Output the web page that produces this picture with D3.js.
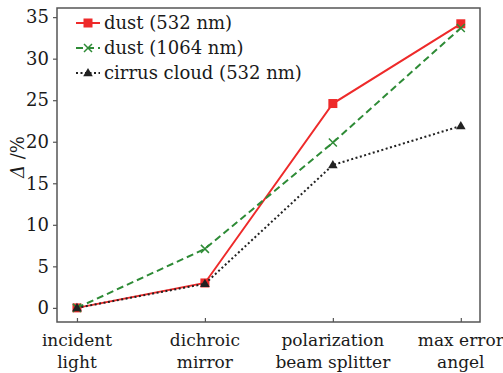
<!DOCTYPE html>
<html>
<head>
<meta charset="utf-8">
<script src="https://cdn.jsdelivr.net/npm/d3@7"></script>
<style>
  body { margin: 0; background: #fff; }
  text { font-family: "DejaVu Serif", serif; fill: #1a1a1a; }
</style>
</head>
<body>
<div id="viz"></div>
<script>
const categories = [["incident", "light"], ["dichroic", "mirror"], ["polarization", "beam splitter"], ["max error", "angel"]]
const dust532 = [0, 3.0, 24.6, 34.2]
const dust1064 = [0, 7.1, 19.9, 33.7]
const cirrus532 = [0, 2.9, 17.2, 21.9]
const yTicks = [0, 5, 10, 15, 20, 25, 30, 35]
const seriesNames = ["dust (532 nm)", "dust (1064 nm)", "cirrus cloud (532 nm)"]

const width = 503
const height = 373
const plotLeft = 57, plotRight = 480, plotTop = 8, plotBottom = 322

const svg = d3.select("#viz").append("svg")
  .attr("width", width)
  .attr("height", height)

const x = d3.scaleLinear().domain([-0.156, 3.15]).range([plotLeft, plotRight])
const y = d3.scaleLinear().domain([-1.7, 36.1]).range([plotBottom, plotTop])

// frame
svg.append("rect")
  .attr("x", plotLeft).attr("y", plotTop)
  .attr("width", plotRight - plotLeft).attr("height", plotBottom - plotTop)
  .attr("fill", "none").attr("stroke", "#555").attr("stroke-width", 1.5)

// y axis
const yAxis = svg.append("g")
  .attr("transform", `translate(${plotLeft},0)`)
  .call(d3.axisLeft(y).tickValues(yTicks).tickSize(4).tickPadding(4))
yAxis.select(".domain").remove()
yAxis.selectAll("line").attr("stroke", "#555").attr("stroke-width", 1.2)
yAxis.selectAll("text").style("font-family", "DejaVu Serif").style("font-size", "18px").attr("fill", "#1a1a1a")

// x axis ticks (inward)
const xAxis = svg.append("g")
  .attr("transform", `translate(0,${plotBottom})`)
  .call(d3.axisBottom(x).tickValues([0, 1, 2, 3]).tickSize(-4).tickFormat(""))
xAxis.select(".domain").remove()
xAxis.selectAll("line").attr("stroke", "#555").attr("stroke-width", 1.2)

// category labels (two lines)
const catLabels = svg.append("g")
categories.forEach((c, i) => {
  const t = catLabels.append("text")
    .attr("x", x(i)).attr("y", 346)
    .attr("text-anchor", "middle")
    .style("font-size", "17px")
  t.append("tspan").attr("x", x(i)).text(c[0])
  t.append("tspan").attr("x", x(i)).attr("dy", 22).text(c[1])
})

// y label
const yl = svg.append("text")
  .attr("transform", "translate(24,157) rotate(-90)")
  .attr("text-anchor", "middle")
  .style("font-size", "18px")
yl.append("tspan").style("font-style", "italic").text("Δ")
yl.append("tspan").text(" /%")

const line = d3.line().x((d, i) => x(i)).y(d => y(d))

const styles = [
  { data: dust532, color: "#ee2a2a", dash: null, marker: "square" },
  { data: dust1064, color: "#2e8b36", dash: "7,4", marker: "cross" },
  { data: cirrus532, color: "#222", dash: "2,2.5", marker: "triangle" }
]

function drawMarker(g, type, cx, cy, color) {
  if (type === "square") {
    g.append("rect").attr("x", cx - 4.5).attr("y", cy - 4.5)
      .attr("width", 9).attr("height", 9).attr("fill", color)
  } else if (type === "cross") {
    g.append("path")
      .attr("d", `M${cx - 4},${cy - 4}L${cx + 4},${cy + 4}M${cx - 4},${cy + 4}L${cx + 4},${cy - 4}`)
      .attr("stroke", color).attr("stroke-width", 1.5)
  } else {
    g.append("path")
      .attr("d", d3.symbol().type(d3.symbolTriangle).size(40)())
      .attr("transform", `translate(${cx},${cy + 0.5})`)
      .attr("fill", color)
  }
}

styles.forEach(s => {
  svg.append("path")
    .datum(s.data)
    .attr("d", line)
    .attr("fill", "none")
    .attr("stroke", s.color)
    .attr("stroke-width", 2)
    .attr("stroke-dasharray", s.dash)
  const g = svg.append("g")
  s.data.forEach((v, i) => drawMarker(g, s.marker, x(i), y(v), s.color))
})

// legend
const legendY = [23, 48, 73]
styles.forEach((s, i) => {
  const g = svg.append("g")
  g.append("line")
    .attr("x1", 76).attr("x2", 100)
    .attr("y1", legendY[i]).attr("y2", legendY[i])
    .attr("stroke", s.color).attr("stroke-width", 2)
    .attr("stroke-dasharray", s.dash)
  drawMarker(g, s.marker, 88, legendY[i], s.color)
  g.append("text")
    .attr("x", 104).attr("y", legendY[i] + 6)
    .style("font-size", "18px")
    .text(seriesNames[i])
})
</script>
</body>
</html>
